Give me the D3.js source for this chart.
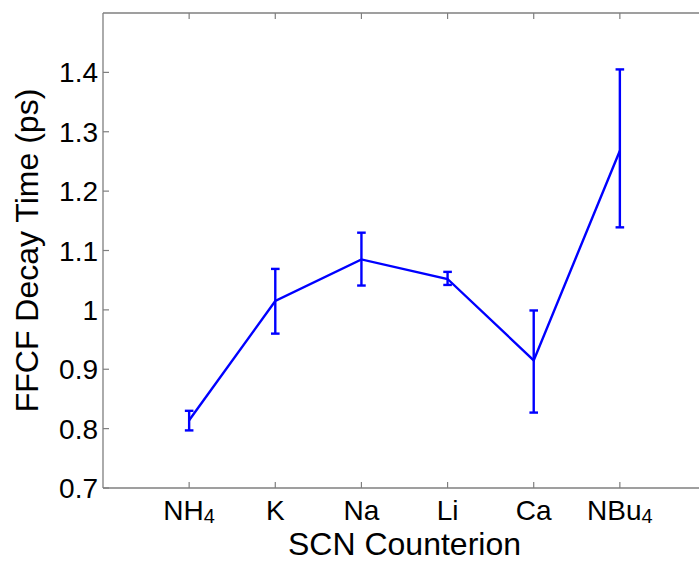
<!DOCTYPE html>
<html>
<head>
<meta charset="utf-8">
<script src="https://cdn.jsdelivr.net/npm/d3@7"></script>
<style>
  body { margin: 0; background: #fff; }
  svg { display: block; font-family: "Liberation Sans", Arial, Helvetica, sans-serif; }
</style>
</head>
<body>
<div id="chart"></div>
<script>
// data
var ions = ["NH4", "K", "Na", "Li", "Ca", "NBu4"];
var decay = [0.814, 1.015, 1.085, 1.052, 0.915, 1.268];
var errLow = [0.797, 0.960, 1.041, 1.042, 0.827, 1.139];
var errHigh = [0.830, 1.069, 1.130, 1.064, 0.999, 1.405];
var yTicks = [0.7, 0.8, 0.9, 1.0, 1.1, 1.2, 1.3, 1.4];

var W = 699, H = 562;
var margin = {top: 13, left: 103, bottom: 74};
var plotW = 603, plotH = H - margin.top - margin.bottom; // plot runs off the right edge

var svg = d3.select("#chart").append("svg")
  .attr("width", W)
  .attr("height", H);

var g = svg.append("g")
  .attr("transform", "translate(" + margin.left + "," + margin.top + ")");

// x positions 1..6, axis from 0 to 7
var x = d3.scaleLinear().domain([0, 7]).range([0, plotW]);
var y = d3.scaleLinear().domain([0.7, 1.5]).range([plotH, 0]);

var axisCol = "#7f7f7f";

// box lines
g.append("line").attr("x1", 0).attr("x2", plotW).attr("y1", plotH).attr("y2", plotH)
  .attr("stroke", axisCol).attr("stroke-width", 1.3);
g.append("line").attr("x1", 0).attr("x2", plotW).attr("y1", 0).attr("y2", 0)
  .attr("stroke", axisCol).attr("stroke-width", 1.3);
g.append("line").attr("x1", 0).attr("x2", 0).attr("y1", 0).attr("y2", plotH)
  .attr("stroke", axisCol).attr("stroke-width", 1.3);

// ticks pointing inward
var tickLen = 6;
g.selectAll(".xtickB").data(ions).enter().append("line")
  .attr("x1", function(d, i) { return x(i + 1); })
  .attr("x2", function(d, i) { return x(i + 1); })
  .attr("y1", plotH).attr("y2", plotH - tickLen)
  .attr("stroke", axisCol).attr("stroke-width", 1.2);
g.selectAll(".xtickT").data(ions).enter().append("line")
  .attr("x1", function(d, i) { return x(i + 1); })
  .attr("x2", function(d, i) { return x(i + 1); })
  .attr("y1", 0).attr("y2", tickLen)
  .attr("stroke", axisCol).attr("stroke-width", 1.2);
g.selectAll(".ytick").data(yTicks).enter().append("line")
  .attr("x1", 0).attr("x2", tickLen)
  .attr("y1", function(d) { return y(d); })
  .attr("y2", function(d) { return y(d); })
  .attr("stroke", axisCol).attr("stroke-width", 1.2);

// y tick labels
g.selectAll(".ylab").data(yTicks).enter().append("text")
  .attr("x", -5)
  .attr("y", function(d) { return y(d); })
  .attr("dy", "0.36em")
  .attr("text-anchor", "end")
  .style("font-size", "28px")
  .text(function(d) { return d === 1 ? "1" : d3.format(".1f")(d); });

// x tick labels, with subscript 4
g.selectAll(".xlab").data(ions).enter().append("text")
  .attr("x", function(d, i) { return x(i + 1); })
  .attr("y", plotH + 32)
  .attr("text-anchor", "middle")
  .style("font-size", "28px")
  .each(function(d) {
    var t = d3.select(this);
    if (d.slice(-1) === "4") {
      t.append("tspan").text(d.slice(0, -1));
      t.append("tspan").attr("dy", 3).style("font-size", "20px").text("4");
    } else {
      t.text(d);
    }
  });

// axis titles
svg.append("text")
  .attr("x", margin.left + x(3.5))
  .attr("y", H - 7)
  .attr("text-anchor", "middle")
  .style("font-size", "32px")
  .text("SCN Counterion");

svg.append("text")
  .attr("transform", "translate(38," + (margin.top + plotH / 2) + ") rotate(-90)")
  .attr("text-anchor", "middle")
  .style("font-size", "32px")
  .text("FFCF Decay Time (ps)");

// line
var line = d3.line()
  .x(function(d, i) { return x(i + 1); })
  .y(function(d) { return y(d); });

g.append("path")
  .datum(decay)
  .attr("d", line)
  .attr("fill", "none")
  .attr("stroke", "#0000ff")
  .attr("stroke-width", 2.4);

// error bars
var capW = 4.3;
var eb = g.selectAll(".err").data(ions).enter().append("g")
  .attr("stroke", "#0000ff").attr("stroke-width", 2.4);
eb.append("line")
  .attr("x1", function(d, i) { return x(i + 1); })
  .attr("x2", function(d, i) { return x(i + 1); })
  .attr("y1", function(d, i) { return y(errLow[i]); })
  .attr("y2", function(d, i) { return y(errHigh[i]); });
eb.append("line")
  .attr("x1", function(d, i) { return x(i + 1) - capW; })
  .attr("x2", function(d, i) { return x(i + 1) + capW; })
  .attr("y1", function(d, i) { return y(errLow[i]); })
  .attr("y2", function(d, i) { return y(errLow[i]); });
eb.append("line")
  .attr("x1", function(d, i) { return x(i + 1) - capW; })
  .attr("x2", function(d, i) { return x(i + 1) + capW; })
  .attr("y1", function(d, i) { return y(errHigh[i]); })
  .attr("y2", function(d, i) { return y(errHigh[i]); });
</script>
</body>
</html>
